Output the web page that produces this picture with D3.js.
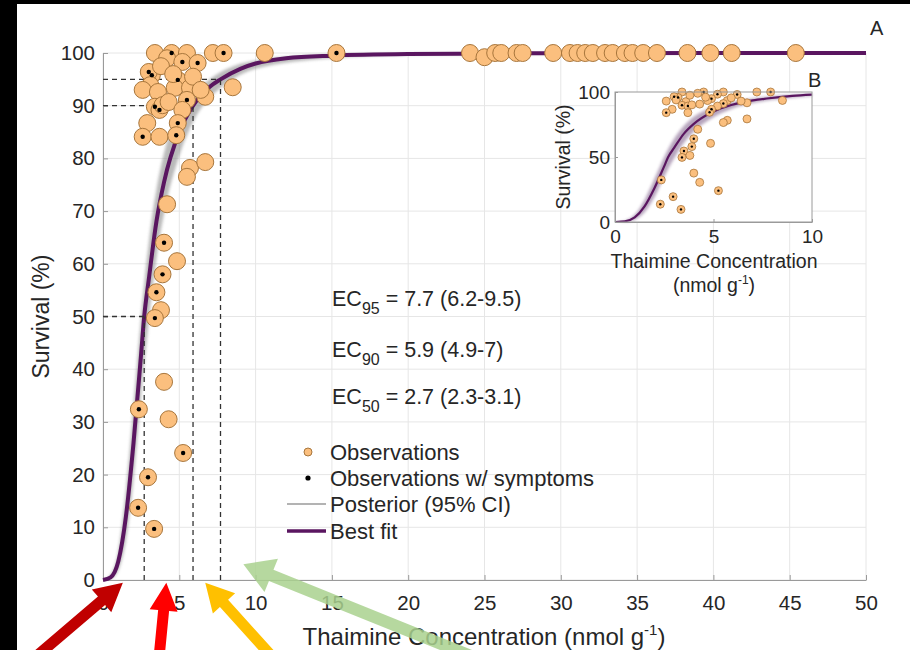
<!DOCTYPE html>
<html>
<head>
<meta charset="utf-8">
<script src="https://cdn.jsdelivr.net/npm/d3@7"></script>
<style>
  body { margin: 0; background: #fff; }
  text { font-family: "Liberation Sans", Arial, Helvetica, sans-serif; fill: #262626; }
</style>
</head>
<body>
<div id="container"></div>
<script>
// observations (thiamine concentration, survival %, symptoms flag)
var obsX = [3.4, 4.5, 5.5, 4.2, 5.2, 6.2, 7.2, 7.9,
  3.2, 3.0, 3.1, 2.6, 3.6, 4.9, 4.7, 5.7, 5.5, 6.7,
  3.4, 3.7, 3.9, 4.3, 5.2, 4.9, 2.9, 2.6, 3.7, 4.8,
  5.7, 6.7, 5.5, 4.2, 4.0, 4.85, 3.9, 3.5, 3.8, 3.4,
  4.0, 2.35, 4.3, 5.25, 2.95, 2.3, 3.35, 8.5, 10.6, 15.3,
  3.8, 4.6, 5.9, 6.4,
  24.05, 25.0, 25.7, 26.1, 27.1, 27.5, 29.5, 30.6, 31.1, 31.6, 32.1,
  32.9, 33.4, 34.2, 34.7, 35.4, 36.3, 38.3, 39.8, 41.2, 45.4];
var obsY = [100, 100, 100, 99, 98.3, 98.1, 100, 100,
  95.8, 96.4, 93.9, 93, 92.6, 94.9, 93.4, 93.4, 91.1, 91.7,
  89.8, 89.2, 90.1, 90.7, 89.2, 86.7, 86.7, 84.1, 84.1, 84.4,
  78.2, 79.3, 76.5, 71.3, 64, 60.5, 58, 54.6, 51.2, 49.7,
  37.6, 32.4, 30.5, 24.1, 19.5, 13.7, 9.7, 93.5, 100, 100,
  97.5, 96, 95.5, 93,
  100, 99.2, 100, 100, 100, 100, 100, 100, 100, 100, 100,
  100, 100, 100, 100, 100, 100, 100, 100, 100, 100];
var obsSym = [0, 1, 0, 0, 1, 1, 0, 1,
  1, 1, 0, 0, 0, 1, 0, 0, 1, 0,
  1, 1, 0, 0, 0, 1, 0, 1, 0, 1,
  0, 0, 0, 0, 1, 0, 1, 1, 0, 1,
  0, 1, 0, 1, 1, 1, 1, 0, 0, 1,
  0, 0, 0, 0,
  0, 0, 0, 0, 0, 0, 0, 0, 0, 0, 0,
  0, 0, 0, 0, 0, 0, 0, 0, 0, 0];

// best fit curve
var fitX = [0, 0.5, 1, 1.5, 2, 2.5, 2.7, 3, 3.5, 4, 5, 5.9, 7, 7.7, 9, 10, 12, 15, 20, 30, 50];
var fitY = [0, 0.5, 3.5, 12, 26, 43, 50, 57, 68, 75.5, 85, 90, 93.6, 95, 97, 98, 99, 99.5, 99.8, 99.95, 100];

// posterior 95% band
var bandX = [0, 0.5, 1, 1.5, 2, 2.5, 3, 3.5, 4, 5, 6, 7, 8, 10, 15, 20, 50];
var bandLo = [0, 0.2, 1.8, 7.5, 19, 35, 49, 61, 69.5, 80.5, 87.5, 91.5, 94, 97, 99, 99.6, 100];
var bandHi = [0, 1, 5.5, 17, 33, 50, 64, 74, 81, 88.5, 92.5, 95, 96.8, 98.6, 99.7, 99.9, 100];

// EC estimates
var ecSub = ["95", "90", "50"];
var ecVal = [7.7, 5.9, 2.7];
var ecLevel = [95, 90, 50];
var ecCI = ["6.2-9.5", "4.9-7", "2.3-3.1"];

var xTicks = [0, 5, 10, 15, 20, 25, 30, 35, 40, 45, 50];
var yTicks = [0, 10, 20, 30, 40, 50, 60, 70, 80, 90, 100];
var insetXTicks = [0, 5, 10];
var insetYTicks = [0, 50, 100];

var legendLabels = ["Observations", "Observations w/ symptoms", "Posterior (95% CI)", "Best fit"];

var orange = "#fbbf7e", orangeEdge = "#a8763c", purple = "#5a1660";

var svg = d3.select("#container").append("svg")
  .attr("width", 910).attr("height", 650);

svg.append("rect").attr("width", 910).attr("height", 650).attr("fill", "#fff");

var defs = svg.append("defs");
defs.append("filter").attr("id", "soft")
  .attr("x", "-20%").attr("y", "-20%").attr("width", "140%").attr("height", "140%")
  .append("feGaussianBlur").attr("stdDeviation", 1.8);

var x = d3.scaleLinear().domain([0, 50]).range([103, 866]);
var y = d3.scaleLinear().domain([0, 100]).range([580, 53]);

// grid
var grid = svg.append("g").attr("stroke", "#e6e6e6").attr("stroke-width", 1);
grid.selectAll(".gx").data(xTicks).enter().append("line")
  .attr("x1", d => x(d)).attr("x2", d => x(d))
  .attr("y1", y(0)).attr("y2", y(100));
grid.selectAll(".gy").data(yTicks).enter().append("line")
  .attr("x1", x(0)).attr("x2", x(50))
  .attr("y1", d => y(d)).attr("y2", d => y(d));

// axes
function styleAxis(g, fs) {
  g.select(".domain").attr("stroke", "#9a9a9a");
  g.selectAll(".tick line").attr("stroke", "#9a9a9a");
  g.selectAll(".tick text").style("font-size", fs + "px")
    .style("font-family", "'Liberation Sans', Arial, sans-serif").attr("fill", "#262626");
}

var xAxisG = svg.append("g")
  .attr("transform", `translate(0, ${y(0)})`)
  .call(d3.axisBottom(x).tickValues(xTicks).tickSize(-5).tickSizeOuter(0).tickPadding(15));
styleAxis(xAxisG, 20.5);

var yAxisG = svg.append("g")
  .attr("transform", `translate(${x(0)}, 0)`)
  .call(d3.axisLeft(y).tickValues(yTicks).tickSize(-5).tickSizeOuter(0).tickPadding(8));
styleAxis(yAxisG, 20.5);

// posterior band + best fit
var bandData = bandX.map((v, i) => ({x: v, lo: bandLo[i], hi: bandHi[i]}));
var fitData = fitX.map((v, i) => ({x: v, y: fitY[i]}));

svg.append("path")
  .datum(bandData)
  .attr("fill", "#8c8c8c")
  .attr("opacity", 0.6)
  .attr("filter", "url(#soft)")
  .attr("d", d3.area().x(d => x(d.x)).y0(d => y(d.lo)).y1(d => y(d.hi)).curve(d3.curveMonotoneX));

svg.append("path")
  .datum(fitData)
  .attr("fill", "none")
  .attr("stroke", purple)
  .attr("stroke-width", 4)
  .attr("d", d3.line().x(d => x(d.x)).y(d => y(d.y)).curve(d3.curveMonotoneX));

// EC dashed guides
var guides = svg.append("g").attr("stroke", "#333").attr("stroke-width", 1.3).attr("stroke-dasharray", "5,4");
ecVal.forEach(function(v, i) {
  guides.append("line").attr("x1", x(v)).attr("x2", x(v)).attr("y1", y(0)).attr("y2", y(ecLevel[i]));
  guides.append("line").attr("x1", x(0)).attr("x2", x(v)).attr("y1", y(ecLevel[i])).attr("y2", y(ecLevel[i]));
});

// observations
var obs = obsX.map((v, i) => ({x: v, y: obsY[i], s: obsSym[i]}));
var pts = svg.append("g");
pts.selectAll("circle").data(obs).enter().append("circle")
  .attr("cx", d => x(d.x)).attr("cy", d => y(d.y))
  .attr("r", 8.5)
  .attr("fill", orange).attr("stroke", orangeEdge).attr("stroke-width", 1);
pts.selectAll(".dot").data(obs.filter(d => d.s)).enter().append("circle")
  .attr("cx", d => x(d.x)).attr("cy", d => y(d.y))
  .attr("r", 2.2).attr("fill", "#000");

// EC labels
var ecBase = [306, 357, 404];
ecSub.forEach(function(s, i) {
  var t = svg.append("text").attr("x", 332).attr("y", ecBase[i]).style("font-size", "21.5px");
  t.append("tspan").text("EC");
  t.append("tspan").attr("dy", 8).style("font-size", "16px").text(s);
  t.append("tspan").attr("dy", -8).text(" = " + ecVal[i] + " (" + ecCI[i] + ")");
});

// legend
var lg = svg.append("g");
var lgY = [452, 478, 504, 531];
lg.append("circle").attr("cx", 308).attr("cy", lgY[0]).attr("r", 4)
  .attr("fill", orange).attr("stroke", orangeEdge);
lg.append("circle").attr("cx", 308).attr("cy", lgY[1]).attr("r", 2.6).attr("fill", "#000");
lg.append("line").attr("x1", 287).attr("x2", 326).attr("y1", lgY[2]).attr("y2", lgY[2])
  .attr("stroke", "#9a9a9a").attr("stroke-width", 1.5);
lg.append("line").attr("x1", 287).attr("x2", 326).attr("y1", lgY[3]).attr("y2", lgY[3])
  .attr("stroke", purple).attr("stroke-width", 3.5);
lg.selectAll("text").data(legendLabels).enter().append("text")
  .attr("x", 330).attr("y", (d, i) => lgY[i] + 7.5)
  .style("font-size", "22px").text(d => d);

// axis titles
svg.append("text")
  .attr("transform", `translate(49, ${(y(0) + y(100)) / 2}) rotate(-90)`)
  .attr("text-anchor", "middle").style("font-size", "23px").text("Survival (%)");

var xt = svg.append("text").attr("x", 484).attr("y", 645).attr("text-anchor", "middle").style("font-size", "24px");
xt.append("tspan").text("Thaimine Concentration (nmol g");
xt.append("tspan").attr("dy", -10).style("font-size", "15px").text("-1");
xt.append("tspan").attr("dy", 10).text(")");

svg.append("text").attr("x", 870).attr("y", 35).style("font-size", "20px").text("A");

// ---- inset B ----
var xi = d3.scaleLinear().domain([0, 10]).range([615, 812]);
var yi = d3.scaleLinear().domain([0, 100]).range([222, 92]);
var inset = svg.append("g");

inset.append("rect").attr("x", xi(0)).attr("y", yi(100))
  .attr("width", xi(10) - xi(0)).attr("height", yi(0) - yi(100)).attr("fill", "#fff");

inset.append("path")
  .datum(bandData.filter(d => d.x <= 10))
  .attr("fill", "#7a5a86").attr("opacity", 0.55)
  .attr("filter", "url(#soft)")
  .attr("d", d3.area().x(d => xi(d.x)).y0(d => yi(d.lo)).y1(d => yi(d.hi)).curve(d3.curveMonotoneX));

inset.append("path")
  .datum(fitData.filter(d => d.x <= 10))
  .attr("fill", "none").attr("stroke", purple).attr("stroke-width", 2.2)
  .attr("d", d3.line().x(d => xi(d.x)).y(d => yi(d.y)).curve(d3.curveMonotoneX));

var insObs = obs.filter(d => d.x <= 10);
inset.selectAll(".ip").data(insObs).enter().append("circle")
  .attr("cx", d => xi(d.x)).attr("cy", d => yi(d.y)).attr("r", 4)
  .attr("fill", orange).attr("stroke", orangeEdge).attr("stroke-width", 0.8);
inset.selectAll(".id").data(insObs.filter(d => d.s)).enter().append("circle")
  .attr("cx", d => xi(d.x)).attr("cy", d => yi(d.y)).attr("r", 1.2).attr("fill", "#000");

var ixAxis = inset.append("g").attr("transform", `translate(0, ${yi(0)})`)
  .call(d3.axisBottom(xi).tickValues(insetXTicks).tickSize(-3).tickSizeOuter(0).tickPadding(8));
styleAxis(ixAxis, 19);
var iyAxis = inset.append("g").attr("transform", `translate(${xi(0)}, 0)`)
  .call(d3.axisLeft(yi).tickValues(insetYTicks).tickSize(-3).tickSizeOuter(0).tickPadding(5));
styleAxis(iyAxis, 19);

inset.append("rect").attr("x", xi(0)).attr("y", yi(100))
  .attr("width", xi(10) - xi(0)).attr("height", yi(0) - yi(100))
  .attr("fill", "none").attr("stroke", "#9a9a9a");

inset.append("text")
  .attr("transform", `translate(570, ${(yi(0) + yi(100)) / 2}) rotate(-90)`)
  .attr("text-anchor", "middle").style("font-size", "19.5px").text("Survival (%)");
inset.append("text").attr("x", 714).attr("y", 268).attr("text-anchor", "middle")
  .style("font-size", "19.5px").text("Thaimine Concentration");
var il = inset.append("text").attr("x", 714).attr("y", 292).attr("text-anchor", "middle").style("font-size", "19.5px");
il.append("tspan").text("(nmol g");
il.append("tspan").attr("dy", -8).style("font-size", "12px").text("-1");
il.append("tspan").attr("dy", 8).text(")");
inset.append("text").attr("x", 808).attr("y", 87).style("font-size", "20px").text("B");

// ---- annotation arrows ----
var arrowTipX = [1.3, 4.15, 6.7, 9.2];
var arrowTipY = [-0.5, -0.5, -0.5, 3];
var arrowTail = [[-88, 75], [-7, 72], [65, 72], [228, 92]];
var arrowColor = ["#c00000", "#ff0000", "#ffc000", "#a9d18e"];
var arrowShaft = [11, 11, 11, 12];
var arrowHead = [[28, 30], [28, 28], [28, 30], [30, 36]];

function arrowPoints(t, p, w, hl, hw) {
  var dx = p[0] - t[0], dy = p[1] - t[1], L = Math.hypot(dx, dy);
  var ux = dx / L, uy = dy / L, nx = -uy, ny = ux;
  var bx = p[0] - ux * hl, by = p[1] - uy * hl;
  return [
    [t[0] + nx * w / 2, t[1] + ny * w / 2],
    [bx + nx * w / 2, by + ny * w / 2],
    [bx + nx * hw / 2, by + ny * hw / 2],
    p,
    [bx - nx * hw / 2, by - ny * hw / 2],
    [bx - nx * w / 2, by - ny * w / 2],
    [t[0] - nx * w / 2, t[1] - ny * w / 2]
  ];
}

arrowTipX.forEach(function(v, i) {
  var tip = [x(v), y(arrowTipY[i])];
  var tail = [tip[0] + arrowTail[i][0], tip[1] + arrowTail[i][1]];
  svg.append("polygon")
    .attr("points", arrowPoints(tail, tip, arrowShaft[i], arrowHead[i][0], arrowHead[i][1]).join(" "))
    .attr("fill", arrowColor[i])
    .attr("opacity", i === 3 ? 0.85 : 1);
});

// black frame edges of the photo
svg.append("rect").attr("x", 0).attr("y", 0).attr("width", 17).attr("height", 650).attr("fill", "#000");
svg.append("rect").attr("x", 0).attr("y", 0).attr("width", 910).attr("height", 4).attr("fill", "#000");
</script>
</body>
</html>
